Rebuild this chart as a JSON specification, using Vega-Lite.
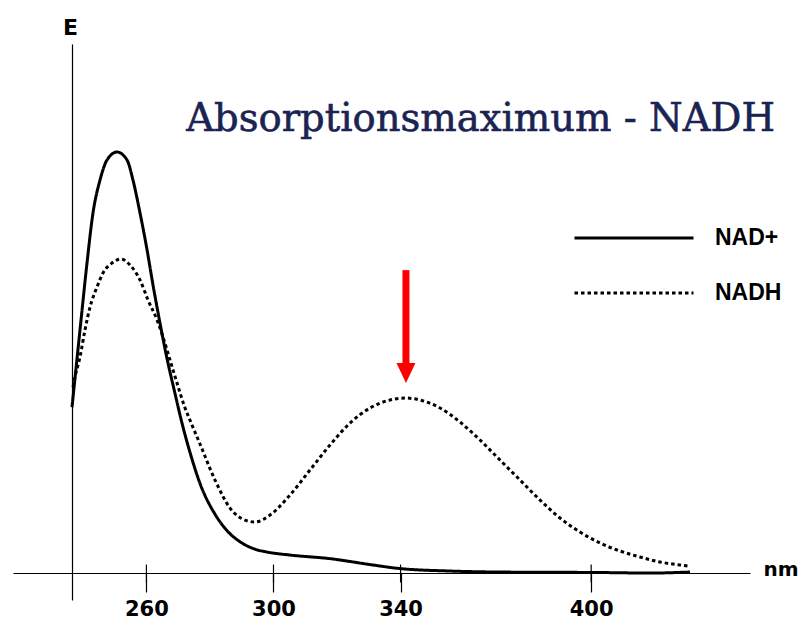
{
  "$schema": "https://vega.github.io/schema/vega-lite/v6.json",
  "width": 737,
  "height": 556,
  "autosize": {"type": "none"},
  "padding": {"left": 13, "top": 44, "right": 52, "bottom": 22},
  "background": "white",
  "config": {
    "view": {"stroke": null},
    "axis": {"grid": false, "domainColor": "black", "domainWidth": 1.2, "tickColor": "black", "tickWidth": 1.2}
  },
  "layer": [
    {
      "data": {"values": [
        {"series": "NAD+", "nm": 236.57, "E": 31.4},
        {"series": "NAD+", "nm": 239.09, "E": 46.0},
        {"series": "NAD+", "nm": 241.29, "E": 58.6},
        {"series": "NAD+", "nm": 243.18, "E": 68.1},
        {"series": "NAD+", "nm": 245.39, "E": 74.3},
        {"series": "NAD+", "nm": 247.59, "E": 78.1},
        {"series": "NAD+", "nm": 250.74, "E": 79.6},
        {"series": "NAD+", "nm": 253.89, "E": 78.1},
        {"series": "NAD+", "nm": 255.77, "E": 74.3},
        {"series": "NAD+", "nm": 257.98, "E": 68.1},
        {"series": "NAD+", "nm": 260.18, "E": 61.2},
        {"series": "NAD+", "nm": 262.07, "E": 54.5},
        {"series": "NAD+", "nm": 264.27, "E": 47.3},
        {"series": "NAD+", "nm": 266.48, "E": 40.6},
        {"series": "NAD+", "nm": 269.0, "E": 34.0},
        {"series": "NAD+", "nm": 271.2, "E": 28.4},
        {"series": "NAD+", "nm": 274.35, "E": 21.6},
        {"series": "NAD+", "nm": 276.87, "E": 17.0},
        {"series": "NAD+", "nm": 281.59, "E": 11.2},
        {"series": "NAD+", "nm": 285.68, "E": 7.9},
        {"series": "NAD+", "nm": 289.46, "E": 6.0},
        {"series": "NAD+", "nm": 294.18, "E": 4.6},
        {"series": "NAD+", "nm": 297.96, "E": 4.06},
        {"series": "NAD+", "nm": 305.2, "E": 3.49},
        {"series": "NAD+", "nm": 318.73, "E": 2.74},
        {"series": "NAD+", "nm": 324.09, "E": 2.27},
        {"series": "NAD+", "nm": 331.33, "E": 1.61},
        {"series": "NAD+", "nm": 339.82, "E": 0.94},
        {"series": "NAD+", "nm": 355.56, "E": 0.47},
        {"series": "NAD+", "nm": 371.3, "E": 0.28},
        {"series": "NAD+", "nm": 402.78, "E": 0.19},
        {"series": "NAD+", "nm": 418.5, "E": 0.09},
        {"series": "NAD+", "nm": 431.11, "E": 0.28},
        {"series": "NADH", "nm": 236.89, "E": 35.2},
        {"series": "NADH", "nm": 237.52, "E": 37.1},
        {"series": "NADH", "nm": 239.09, "E": 40.9},
        {"series": "NADH", "nm": 240.66, "E": 46.0},
        {"series": "NADH", "nm": 242.24, "E": 50.3},
        {"series": "NADH", "nm": 244.44, "E": 54.1},
        {"series": "NADH", "nm": 246.33, "E": 56.75},
        {"series": "NADH", "nm": 249.16, "E": 58.64},
        {"series": "NADH", "nm": 252.0, "E": 59.39},
        {"series": "NADH", "nm": 254.83, "E": 58.26},
        {"series": "NADH", "nm": 257.98, "E": 55.43},
        {"series": "NADH", "nm": 260.5, "E": 51.65},
        {"series": "NADH", "nm": 263.33, "E": 47.9},
        {"series": "NADH", "nm": 265.22, "E": 44.66},
        {"series": "NADH", "nm": 267.42, "E": 40.32},
        {"series": "NADH", "nm": 269.63, "E": 35.98},
        {"series": "NADH", "nm": 271.83, "E": 31.82},
        {"series": "NADH", "nm": 274.35, "E": 28.04},
        {"series": "NADH", "nm": 276.87, "E": 24.46},
        {"series": "NADH", "nm": 281.59, "E": 17.66},
        {"series": "NADH", "nm": 286.31, "E": 12.37},
        {"series": "NADH", "nm": 291.03, "E": 10.1},
        {"series": "NADH", "nm": 294.18, "E": 9.73},
        {"series": "NADH", "nm": 298.9, "E": 11.05},
        {"series": "NADH", "nm": 305.2, "E": 14.82},
        {"series": "NADH", "nm": 311.49, "E": 19.55},
        {"series": "NADH", "nm": 317.79, "E": 24.27},
        {"series": "NADH", "nm": 324.09, "E": 28.42},
        {"series": "NADH", "nm": 330.38, "E": 31.26},
        {"series": "NADH", "nm": 336.68, "E": 32.77},
        {"series": "NADH", "nm": 341.4, "E": 33.14},
        {"series": "NADH", "nm": 346.12, "E": 32.77},
        {"series": "NADH", "nm": 352.42, "E": 31.26},
        {"series": "NADH", "nm": 358.71, "E": 28.61},
        {"series": "NADH", "nm": 365.01, "E": 25.21},
        {"series": "NADH", "nm": 371.3, "E": 21.43},
        {"series": "NADH", "nm": 377.6, "E": 17.66},
        {"series": "NADH", "nm": 383.9, "E": 13.88},
        {"series": "NADH", "nm": 390.19, "E": 10.48},
        {"series": "NADH", "nm": 396.49, "E": 7.84},
        {"series": "NADH", "nm": 402.78, "E": 5.76},
        {"series": "NADH", "nm": 409.08, "E": 4.25},
        {"series": "NADH", "nm": 415.37, "E": 3.12},
        {"series": "NADH", "nm": 421.67, "E": 2.17},
        {"series": "NADH", "nm": 427.97, "E": 1.61},
        {"series": "NADH", "nm": 430.48, "E": 1.42}
      ]},
      "mark": {"type": "line", "interpolate": "monotone", "color": "black", "strokeWidth": 3, "strokeCap": "butt"},
      "encoding": {
        "x": {
          "field": "nm", "type": "quantitative",
          "scale": {"domain": [218, 450], "nice": false, "zero": false},
          "axis": {
            "values": [260, 300, 340, 400], "offset": -27, "tickSize": 19,
            "labelFont": "DejaVu Sans", "labelFontWeight": "bold", "labelFontSize": 21, "labelColor": "black",
            "labelPadding": 6, "labelFlush": false,
            "title": "nm", "titleFont": "DejaVu Sans", "titleFontWeight": "bold", "titleFontSize": 20, "titleColor": "black",
            "titleAnchor": null, "titleAlign": "left", "titleBaseline": "alphabetic", "titleX": 750, "titleY": 2
          }
        },
        "y": {
          "field": "E", "type": "quantitative",
          "scale": {"domain": [-5, 100], "nice": false, "zero": false},
          "axis": {
            "offset": -59, "ticks": false, "labels": false,
            "title": "E", "titleAngle": 0, "titleFont": "DejaVu Sans", "titleFontWeight": "bold", "titleFontSize": 22, "titleColor": "black",
            "titleAlign": "center", "titleBaseline": "alphabetic", "titleX": -2, "titleY": -10
          }
        },
        "strokeDash": {
          "field": "series", "type": "nominal",
          "scale": {"domain": ["NAD+", "NADH"], "range": [[1, 0], [3.5, 3]]},
          "legend": {
            "title": null, "orient": "none", "legendX": 560, "legendY": 180, "padding": 0,
            "symbolType": "stroke", "symbolSize": 14161, "symbolStrokeWidth": 3, "symbolStrokeColor": "black",
            "labelFont": "Liberation Sans", "labelFontWeight": "bold", "labelFontSize": 23, "labelColor": "black",
            "labelOffset": 20, "clipHeight": 28, "rowPadding": 27
          }
        }
      }
    },
    {
      "data": {"values": [{"nm": 260}, {"nm": 300}, {"nm": 340}, {"nm": 400}]},
      "mark": {"type": "tick", "orient": "vertical", "color": "black", "size": 18, "thickness": 1.2, "opacity": 1},
      "encoding": {
        "x": {"field": "nm", "type": "quantitative"},
        "y": {"datum": 0, "type": "quantitative"}
      }
    },
    {
      "data": {"values": [{"nm": 341.7, "E": 57.3, "E2": 39.4}]},
      "mark": {"type": "rule", "color": "#ff0000", "strokeWidth": 7},
      "encoding": {
        "x": {"field": "nm", "type": "quantitative"},
        "y": {"field": "E", "type": "quantitative"},
        "y2": {"field": "E2"}
      }
    },
    {
      "data": {"values": [{"nm": 341.7, "E": 37.87}]},
      "mark": {"type": "point", "shape": "M-0.95,-1L0.95,-1L0,1Z", "size": 400, "filled": true, "color": "#ff0000", "opacity": 1, "strokeWidth": 0},
      "encoding": {
        "x": {"field": "nm", "type": "quantitative"},
        "y": {"field": "E", "type": "quantitative"}
      }
    },
    {
      "data": {"values": [{"label": "Absorptionsmaximum - NADH", "nm": 365.2, "E": 83.57}]},
      "mark": {"type": "text", "font": "DejaVu Serif", "fontSize": 38.5, "color": "#1b2353", "stroke": "#1b2353", "strokeWidth": 0.6, "align": "center", "baseline": "alphabetic"},
      "encoding": {
        "x": {"field": "nm", "type": "quantitative"},
        "y": {"field": "E", "type": "quantitative"},
        "text": {"field": "label"}
      }
    }
  ]
}
